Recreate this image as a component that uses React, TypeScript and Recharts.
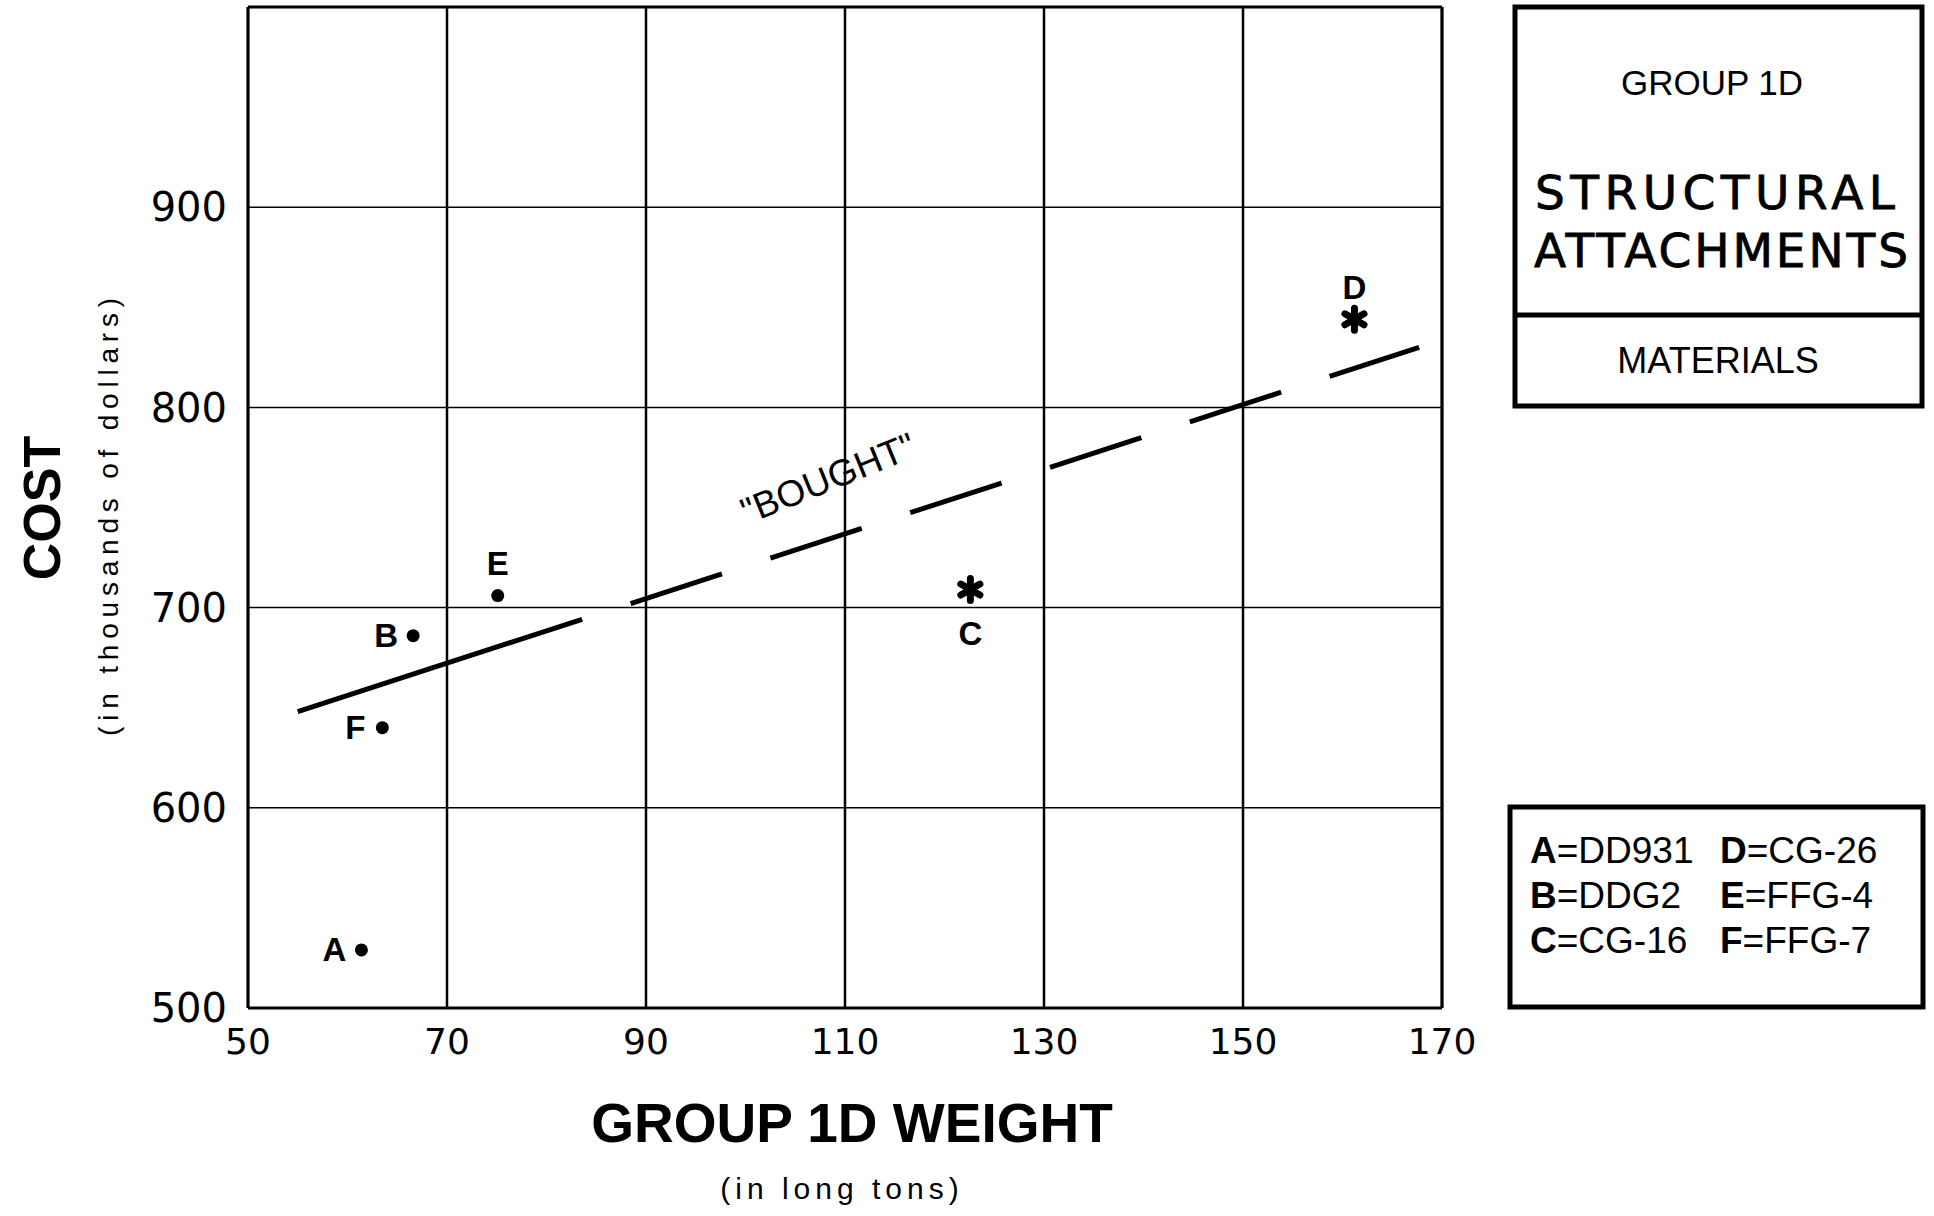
import {
  CartesianGrid,
  ReferenceDot,
  ReferenceLine,
  Scatter,
  ScatterChart,
  XAxis,
  YAxis,
} from "recharts";

// ships plotted with a round dot
const dotShips = ["A", "B", "E", "F"];
const dotWeights = [61.4, 66.6, 75.1, 63.5];
const dotCosts = [529, 686, 706, 640];

// ships plotted with an asterisk
const starShips = ["C", "D"];
const starWeights = [122.6, 161.2];
const starCosts = [709, 844];

// "bought" trend line end points
const boughtWeights = [55, 167.7];
const boughtCosts = [648, 830];
const boughtText = '"BOUGHT"';
const boughtTextWeight = 108.3;
const boughtTextCost = 764.5;

const xTicks = [50, 70, 90, 110, 130, 150, 170];
const yTicks = [500, 600, 700, 800, 900, 1000];

const legendLetters = ["A", "B", "C", "D", "E", "F"];
const legendClasses = ["DD931", "DDG2", "CG-16", "CG-26", "FFG-4", "FFG-7"];

const dotData = dotShips.map((name, i) => ({ name, x: dotWeights[i], y: dotCosts[i] }));
const starData = starShips.map((name, i) => ({ name, x: starWeights[i], y: starCosts[i] }));

const SANS = "'Liberation Sans', Arial, Helvetica, sans-serif";
const WIDE = "'DejaVu Sans', 'Liberation Sans', sans-serif";

const labelSide: Record<string, string> = {
  A: "left",
  B: "left",
  F: "left",
  E: "top",
  C: "bottom",
  D: "top",
};

function markLabel(cx: number, cy: number, name: string) {
  const side = labelSide[name];
  const dx = side === "left" ? -27 : 0;
  const dy = side === "top" ? -32 : side === "bottom" ? 44 : 0;
  return (
    <text
      x={cx + dx}
      y={cy + dy}
      textAnchor="middle"
      dominantBaseline="central"
      fontFamily={SANS}
      fontWeight={700}
      fontSize={33}
      fill="#000"
    >
      {name}
    </text>
  );
}

const DotShape = (props: any) => {
  const { cx, cy, payload } = props;
  return (
    <g>
      <circle cx={cx} cy={cy} r={6.5} fill="#000" />
      {markLabel(cx, cy, payload.name)}
    </g>
  );
};

const StarShape = (props: any) => {
  const { cx, cy, payload } = props;
  const r = 11;
  return (
    <g>
      {[90, 30, 150].map((a) => {
        const dx = r * Math.cos((a * Math.PI) / 180);
        const dy = r * Math.sin((a * Math.PI) / 180);
        return (
          <line
            key={a}
            x1={cx - dx}
            y1={cy - dy}
            x2={cx + dx}
            y2={cy + dy}
            stroke="#000"
            strokeWidth={7}
            strokeLinecap="round"
          />
        );
      })}
      <circle cx={cx} cy={cy} r={6} fill="#000" />
      {markLabel(cx, cy, payload.name)}
    </g>
  );
};

const BoughtText = (props: any) => {
  const { cx, cy } = props;
  return (
    <text
      x={cx}
      y={cy}
      transform={`rotate(-22 ${cx} ${cy})`}
      textAnchor="middle"
      dominantBaseline="central"
      fontFamily={SANS}
      fontSize={37}
      fill="#000"
    >
      {boughtText}
    </text>
  );
};

const Panels = () => (
  <svg
    width={1934}
    height={1216}
    style={{ position: "absolute", left: 0, top: 0, pointerEvents: "none" }}
  >
    {/* axis titles */}
    <text
      x={42}
      y={508}
      transform="rotate(-90 42 508)"
      textAnchor="middle"
      dominantBaseline="central"
      fontFamily={SANS}
      fontWeight={700}
      fontSize={52}
    >
      COST
    </text>
    <text
      x={108}
      y={514}
      transform="rotate(-90 108 514)"
      textAnchor="middle"
      dominantBaseline="central"
      fontFamily={SANS}
      fontSize={28}
      letterSpacing={5.8}
    >
      (in thousands of dollars)
    </text>
    <text
      x={852}
      y={1123}
      textAnchor="middle"
      dominantBaseline="central"
      fontFamily={SANS}
      fontWeight={700}
      fontSize={55}
    >
      GROUP 1D WEIGHT
    </text>
    <text
      x={842}
      y={1188}
      textAnchor="middle"
      dominantBaseline="central"
      fontFamily={SANS}
      fontSize={30}
      letterSpacing={5}
    >
      (in long tons)
    </text>

    {/* title box */}
    <rect x={1515} y={7} width={407} height={399} fill="none" stroke="#000" strokeWidth={5} />
    <line x1={1515} y1={315} x2={1922} y2={315} stroke="#000" strokeWidth={5} />
    <g fontFamily={SANS} textAnchor="middle" fill="#000">
      <text x={1712} y={82} dominantBaseline="central" fontSize={35}>
        GROUP 1D
      </text>
      <text
        x={1715}
        y={192}
        dominantBaseline="central"
        fontFamily={WIDE}
        fontSize={47}
        stroke="#000"
        strokeWidth={0.8}
        textLength={360}
        lengthAdjust="spacing"
      >
        STRUCTURAL
      </text>
      <text
        x={1721}
        y={250}
        dominantBaseline="central"
        fontFamily={WIDE}
        fontSize={47}
        stroke="#000"
        strokeWidth={0.8}
        textLength={374}
        lengthAdjust="spacing"
      >
        ATTACHMENTS
      </text>
      <text x={1718} y={360} dominantBaseline="central" fontSize={36}>
        MATERIALS
      </text>
    </g>

    {/* key box */}
    <rect x={1510} y={807} width={413} height={200} fill="none" stroke="#000" strokeWidth={5} />
    <g fontFamily={SANS} fontSize={37} fill="#000">
      {legendLetters.map((letter, i) => {
        const col = i < 3 ? 0 : 1;
        const row = i % 3;
        return (
          <text
            key={letter}
            x={col === 0 ? 1530 : 1720}
            y={850 + row * 45}
            dominantBaseline="central"
          >
            <tspan fontWeight={700}>{letter}</tspan>
            <tspan>{"=" + legendClasses[i]}</tspan>
          </text>
        );
      })}
    </g>
  </svg>
);

export default function App() {
  return (
    <div
      style={{
        position: "absolute",
        left: 0,
        top: 0,
        width: 1934,
        height: 1216,
        background: "#fff",
      }}
    >
      <ScatterChart
        width={1934}
        height={1216}
        margin={{ top: 7, right: 492, bottom: 148, left: 0 }}
      >
        <CartesianGrid horizontal={false} stroke="#000" strokeWidth={2.5} />
        <CartesianGrid vertical={false} stroke="#000" strokeWidth={1.5} />
        <XAxis
          type="number"
          dataKey="x"
          domain={[50, 170]}
          ticks={xTicks}
          interval={0}
          height={60}
          tickLine={false}
          tickSize={0}
          tickMargin={20}
          axisLine={{ stroke: "#000", strokeWidth: 3 }}
          tick={{ fill: "#000", fontSize: 36, fontFamily: WIDE }}
        />
        <YAxis
          type="number"
          dataKey="y"
          domain={[500, 1000]}
          ticks={yTicks}
          interval={0}
          width={248}
          tickLine={false}
          tickSize={0}
          tickMargin={21}
          axisLine={{ stroke: "#000", strokeWidth: 3 }}
          tickFormatter={(v: number) => (v === 1000 ? "" : String(v))}
          tick={{ fill: "#000", fontSize: 40, fontFamily: WIDE }}
        />
        <ReferenceLine y={1000} stroke="#000" strokeWidth={3} />
        <ReferenceLine x={170} stroke="#000" strokeWidth={3} />
        <ReferenceLine
          segment={[
            { x: boughtWeights[0], y: boughtCosts[0] },
            { x: boughtWeights[1], y: boughtCosts[1] },
          ]}
          stroke="#000"
          strokeWidth={5}
          strokeDasharray="299 51 96 51 96 51 96 51 96 51 96 51 96"
        />
        <ReferenceDot x={boughtTextWeight} y={boughtTextCost} r={0} shape={BoughtText} />
        <Scatter data={dotData} shape={DotShape} isAnimationActive={false} />
        <Scatter data={starData} shape={StarShape} isAnimationActive={false} />
      </ScatterChart>
      <Panels />
    </div>
  );
}
